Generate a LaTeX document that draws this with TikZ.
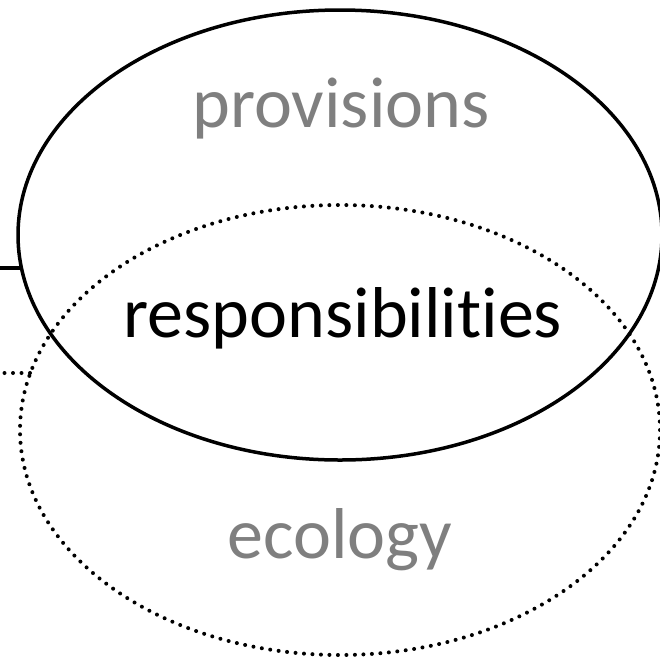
\documentclass[tikz,border=0pt]{standalone}
\usepackage{fontspec}
\setmainfont{Carlito}[Ligatures={NoCommon}]
\usetikzlibrary{shapes.geometric}
\definecolor{labelgray}{HTML}{7F7F7F}
\tikzset{
  solidell/.style={draw=black, line width=3.5pt, ellipse, inner sep=0pt},
  dotell/.style={draw=black, line width=4pt, ellipse, inner sep=0pt, line cap=round, dash pattern=on 0pt off 8.5pt},
  dotline/.style={draw=black, line width=4pt, line cap=round, dash pattern=on 0pt off 8.5pt},
  solidline/.style={draw=black, line width=3.5pt},
  biglabel/.style={font=\fontsize{72}{86}\selectfont, inner sep=0pt, anchor=base},
}
\begin{document}
\begin{tikzpicture}[x=1pt,y=-1pt]
\useasboundingbox (0,0) rectangle (660,659);
\node[dotell, minimum width=640pt, minimum height=450pt] (eco) at (340,430) {};
\node[solidell, minimum width=644pt, minimum height=450pt] (prov) at (340,235) {};
\node[biglabel, text=labelgray] (tprov) at (341,127) {provisions};
\node[biglabel, text=black] (tresp) at (343,337) {responsibilities};
\node[biglabel, text=labelgray] (teco) at (340,558) {ecology};
\coordinate (la) at (0,268);
\coordinate (lb) at (21.5,268);
\coordinate (da) at (4,373);
\coordinate (db) at (30,373);
\draw[solidline] (la) -- (lb);
\draw[dotline] (db) -- (da);
\end{tikzpicture}
\end{document}
